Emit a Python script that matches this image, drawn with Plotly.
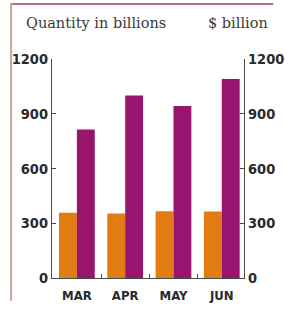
import plotly.graph_objects as go

months = ["MAR", "APR", "MAY", "JUN"]
quantity = [357, 353, 366, 364]
dollars = [814, 1000, 943, 1091]
tick_vals = [0, 300, 600, 900, 1200]
tick_text = ["0", "300", "600", "900", "1200"]

W, H = 296, 315
L, R, T, B = 47, 33, 59, 24
pw = W - L - R
ph = H - T - B

def px(x):
    return (x - L) / pw

def py(y):
    return (H - B - y) / ph

num_font = dict(family="Liberation Sans Narrow, DejaVu Sans Condensed, Arial Narrow, sans-serif",
                size=14.5, color="#2a2a2a", weight="bold")
cat_font = dict(family="Liberation Sans Narrow, DejaVu Sans Condensed, Arial Narrow, sans-serif",
                size=13, color="#2a2a2a", weight="bold")
title_font = dict(family="DejaVu Serif, Liberation Serif, serif", size=14.5, color="#3a3a3a")

fig = go.Figure()
fig.add_trace(go.Bar(x=months, y=quantity, marker=dict(color="#E07C12", line=dict(width=0)),
                     offsetgroup="q", yaxis="y", showlegend=False))
fig.add_trace(go.Bar(x=months, y=dollars, marker=dict(color="#98146F", line=dict(width=0)),
                     offsetgroup="d", yaxis="y2", showlegend=False))

axis_common = dict(range=[0, 1200], tickvals=tick_vals, ticktext=tick_text,
                   showgrid=False, zeroline=False, showline=True, linecolor="#4a4a4a",
                   linewidth=1.2, ticks="inside", ticklen=4, tickcolor="#4a4a4a",
                   tickfont=num_font, fixedrange=True)

fig.update_layout(
    width=W, height=H, autosize=False,
    margin=dict(l=L, r=R, t=T, b=B, pad=0),
    paper_bgcolor="white", plot_bgcolor="white",
    barmode="group", bargap=0.26, bargroupgap=0,
    xaxis=dict(range=[-0.515, 3.46], showgrid=False, zeroline=False, showline=True,
               linecolor="#4a4a4a", linewidth=1.2, ticks="inside", ticklen=4,
               tickcolor="#4a4a4a", tickson="boundaries", tickfont=cat_font,
               ticklabelstandoff=5, fixedrange=True),
    yaxis=dict(side="left", **axis_common),
    yaxis2=dict(side="right", overlaying="y", **axis_common),
    annotations=[
        dict(text="Quantity in billions", x=px(16), y=py(21), xref="paper", yref="paper",
             xanchor="left", yanchor="middle", showarrow=False, font=title_font),
        dict(text="$ billion", x=px(292.5), y=py(21), xref="paper", yref="paper",
             xanchor="right", yanchor="middle", showarrow=False, font=title_font),
    ],
    shapes=[
        dict(type="line", xref="paper", yref="paper", x0=px(0), x1=px(W), y0=py(0.7), y1=py(0.7),
             line=dict(color="#a83a48", width=1.5)),
        dict(type="line", xref="paper", yref="paper", x0=px(1), x1=px(1), y0=py(0), y1=py(H),
             line=dict(color="#c9a298", width=2)),
    ],
)

fig.write_html("out.html", config={"displayModeBar": False},
               post_script="document.body.style.margin='0';document.body.style.overflow='hidden';")
